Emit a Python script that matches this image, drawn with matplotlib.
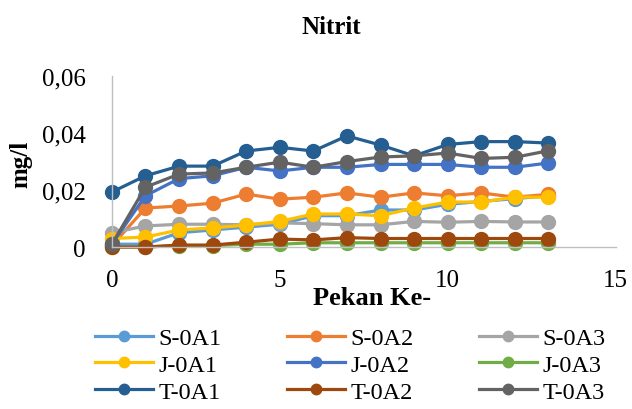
import matplotlib
matplotlib.use("Agg")
import matplotlib.pyplot as plt

plt.rcParams['font.family'] = ['Liberation Serif', 'DejaVu Serif']

# Nitrite concentration per week for each sampling station
pekan = list(range(14))

s_0a1 = [0.001, 0.001, 0.005, 0.006, 0.007, 0.008, 0.011, 0.011, 0.013, 0.013, 0.015, 0.016, 0.017, 0.018]
s_0a2 = [0.0005, 0.0137, 0.0144, 0.0154, 0.0186, 0.0168, 0.0175, 0.019, 0.0175, 0.019, 0.018, 0.019, 0.0175, 0.0185]
s_0a3 = [0.005, 0.0074, 0.008, 0.008, 0.0078, 0.0085, 0.0082, 0.0078, 0.0078, 0.009, 0.0087, 0.009, 0.0088, 0.0088]
j_0a1 = [0.003, 0.0035, 0.006, 0.0067, 0.0077, 0.009, 0.0116, 0.0116, 0.011, 0.0137, 0.0158, 0.0158, 0.0175, 0.0175]
j_0a2 = [0.001, 0.018, 0.024, 0.025, 0.028, 0.0267, 0.028, 0.028, 0.029, 0.029, 0.029, 0.028, 0.028, 0.0295]
j_0a3 = [0.0, 0.0, 0.0005, 0.0005, 0.001, 0.001, 0.0015, 0.0015, 0.0015, 0.0015, 0.0015, 0.0015, 0.0015, 0.0015]
t_0a1 = [0.0193, 0.025, 0.0284, 0.0284, 0.0337, 0.035, 0.0337, 0.039, 0.0358, 0.032, 0.036, 0.037, 0.037, 0.0365]
t_0a2 = [0.0, 0.0, 0.0007, 0.0007, 0.0017, 0.0028, 0.0025, 0.0033, 0.003, 0.003, 0.003, 0.003, 0.003, 0.003]
t_0a3 = [0.001, 0.021, 0.0256, 0.026, 0.028, 0.0298, 0.028, 0.030, 0.0316, 0.032, 0.033, 0.0311, 0.0315, 0.0338]

labels = ['S-0A1', 'S-0A2', 'S-0A3', 'J-0A1', 'J-0A2', 'J-0A3', 'T-0A1', 'T-0A2', 'T-0A3']
series = [s_0a1, s_0a2, s_0a3, j_0a1, j_0a2, j_0a3, t_0a1, t_0a2, t_0a3]
colors = ['#5B9BD5', '#ED7D31', '#A5A5A5', '#FFC000', '#4472C4', '#70AD47',
          '#255E91', '#9E480E', '#636363']

fig = plt.figure(figsize=(6.32, 4.10), dpi=100)
ax = fig.add_axes([0.177, 0.395, 0.797, 0.417])

handles = []
for vals, lab, col in zip(series, labels, colors):
    h, = ax.plot(pekan, vals, color=col, lw=2.3, marker='o', markersize=10,
                 label=lab, clip_on=False)
    handles.append(h)

ax.set_xlim(0, 15)
ax.set_ylim(0, 0.06)
ax.set_xticks([0, 5, 10, 15])
ax.set_yticks([0, 0.02, 0.04, 0.06])
ax.set_yticklabels(['0', '0,02', '0,04', '0,06'])
ax.tick_params(length=0, labelsize=18)
ax.tick_params(axis='y', pad=19)
ax.tick_params(axis='x', pad=16)
for side in ['top', 'right']:
    ax.spines[side].set_visible(False)
for side in ['left', 'bottom']:
    ax.spines[side].set_color('#BFBFBF')
    ax.spines[side].set_linewidth(1.0)

fig.text(0.524, 0.934, 'Nitrit', ha='center', va='center', fontsize=18, fontweight='bold')
fig.text(0.589, 0.273, 'Pekan Ke-', ha='center', va='center', fontsize=19, fontweight='bold')
fig.text(0.033, 0.6, 'mg/l', ha='center', va='center', fontsize=18, fontweight='bold',
         rotation=90)

# legend laid out row by row: S, J, T stations
order = [0, 3, 6, 1, 4, 7, 2, 5, 8]
fig.legend([handles[i] for i in order], [labels[i] for i in order],
           ncol=3, loc='upper left', bbox_to_anchor=(95 / 632, 1 - 328 / 410),
           borderpad=0, borderaxespad=0,
           frameon=False, fontsize=17.5, handlelength=2.4, handletextpad=0.2,
           columnspacing=2.7, labelspacing=0.2, markerscale=0.75)

fig.savefig('out.png', dpi=100)
